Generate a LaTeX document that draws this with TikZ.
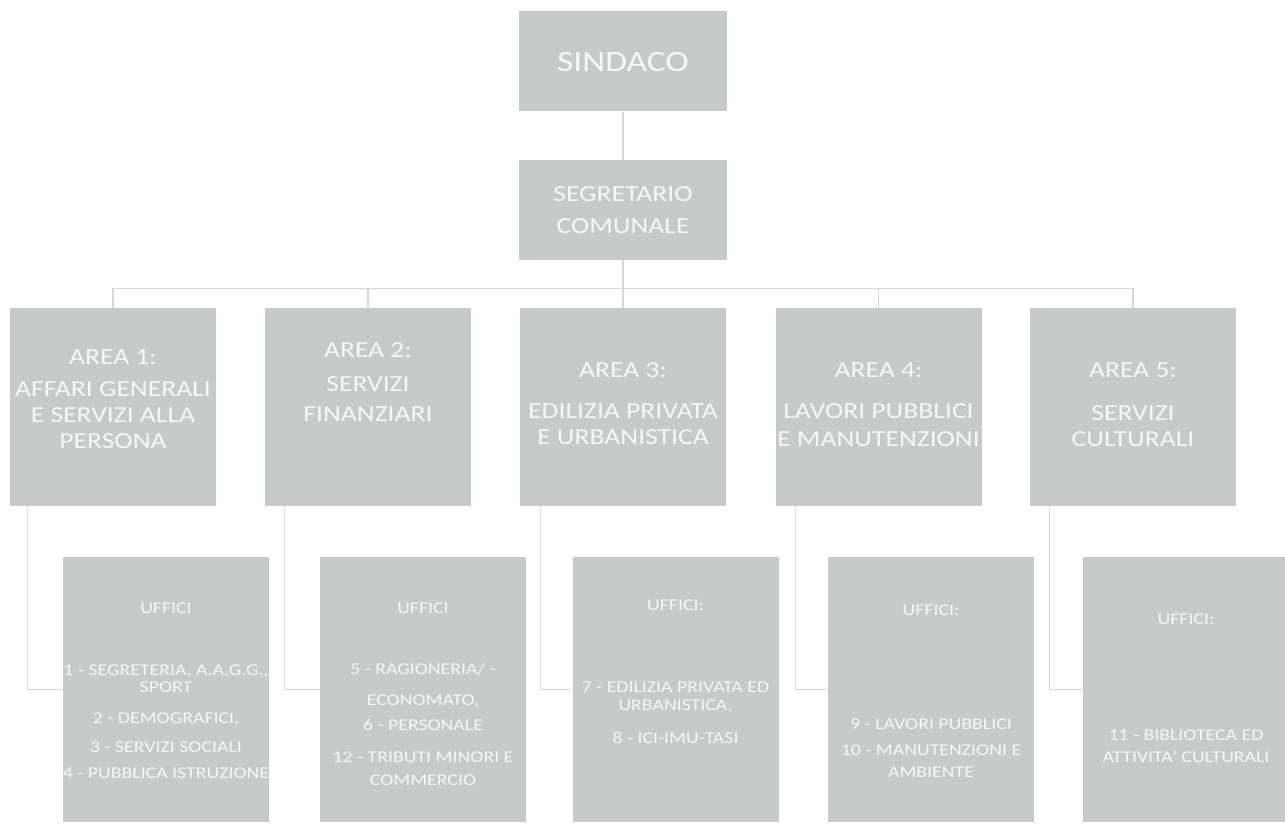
\documentclass[tikz,border=0pt]{standalone}
\usepackage{fontspec}
\setmainfont{Carlito}[FakeStretch=1.2]
\definecolor{boxgray}{RGB}{198,203,201}
\definecolor{txtwhite}{RGB}{246,247,247}
\definecolor{linegray}{RGB}{214,217,216}
\newcommand\fsin{\fontsize{29.5}{32}\selectfont}
\newcommand\fseg{\fontsize{23}{32}\selectfont}
\newcommand\farea{\fontsize{23}{26}\selectfont}
\newcommand\foff{\fontsize{16.5}{17}\selectfont}
\tikzset{
  unitbox/.style={fill=boxgray, draw=none, inner sep=0pt, minimum width=208pt, minimum height=100pt},
  areabox/.style={fill=boxgray, draw=none, inner sep=0pt, minimum width=206pt, minimum height=198pt},
  officebox/.style={fill=boxgray, draw=none, inner sep=0pt, minimum width=206pt, minimum height=265pt},
  txt/.style={text=txtwhite, align=center, inner sep=0pt},
  link/.style={draw=linegray, line width=1.3pt},
}
\begin{document}
\begin{tikzpicture}[x=1pt,y=-1pt]
\useasboundingbox (0,0) rectangle (1285,829);
\fill[white] (0,0) rectangle (1285,829);

% top
\node[unitbox] (sin) at (623,61.5) {};
\node[txt,font=\fsin] (sint) at (623,62) {SINDACO};
\node[unitbox] (seg) at (623,210) {};
\node[txt,font=\fseg] (segt) at (623,210) {SEGRETARIO\\COMUNALE};

% areas
\node[areabox] (a1) at (113,407) {};
\node[areabox] (a2) at (368,407) {};
\node[areabox] (a3) at (623,407) {};
\node[areabox] (a4) at (878.5,407) {};
\node[areabox] (a5) at (1133,407) {};

\node[txt,font=\farea] (a1t) at (113,399) {AREA 1:\\[6pt]AFFARI GENERALI\\E SERVIZI ALLA\\PERSONA};
\node[txt,font=\farea] (a2t) at (368,382) {AREA 2:\\[8pt]SERVIZI\\[4pt]FINANZIARI};
\node[txt,font=\farea] (a3t) at (623,404) {AREA 3:\\[15pt]EDILIZIA PRIVATA\\E URBANISTICA};
\node[txt,font=\farea] (a4t) at (878.5,405) {AREA 4:\\[15pt]LAVORI PUBBLICI\\[2pt]E MANUTENZIONI};
\node[txt,font=\farea] (a5t) at (1133,405) {AREA 5:\\[17pt]SERVIZI\\CULTURALI};

% offices
\node[officebox] (o1) at (166,689.5) {};
\node[officebox] (o2) at (423,689.5) {};
\node[officebox] (o3) at (675.5,689.5) {};
\node[officebox] (o4) at (931,689.5) {};
\node[officebox] (o5) at (1186,689.5) {};

\node[txt,font=\foff] (o1t) at (166,690.5) {UFFICI\\[45pt]1 - SEGRETERIA, A.A.G.G.,\\SPORT\\[14pt]2 - DEMOGRAFICI,\\[12pt]3 - SERVIZI SOCIALI\\[9pt]4 - PUBBLICA ISTRUZIONE};
\node[txt,font=\foff] (o2t) at (423,694) {UFFICI\\[44pt]5 - RAGIONERIA/ -\\[14pt]ECONOMATO,\\[8pt]6 - PERSONALE\\[15pt]12 - TRIBUTI MINORI E\\[6pt]COMMERCIO};
\node[txt,font=\foff] (o3t) at (675.5,671.5) {UFFICI:\\[65pt]7 - EDILIZIA PRIVATA ED\\[1pt]URBANISTICA,\\[16pt]8 - ICI-IMU-TASI};
\node[txt,font=\foff] (o4t) at (931,691) {UFFICI:\\[97pt]9 - LAVORI PUBBLICI\\[9pt]10 - MANUTENZIONI E\\[5pt]AMBIENTE};
\node[txt,font=\foff] (o5t) at (1186,688) {UFFICI:\\[99pt]11 - BIBLIOTECA ED\\[5pt]ATTIVITA' CULTURALI};

% connectors
\draw[link] (sin.south) -- (seg.north);
\draw[link] (seg.south) -- ++(0,28) coordinate (bus);
\foreach \a in {a1,a2,a3,a4,a5} {
  \draw[link] (bus) -| (\a.north);
}
\draw[link] ([xshift=18pt]a1.south west) |- (o1.west);
\draw[link] ([xshift=20pt]a2.south west) |- (o2.west);
\draw[link] ([xshift=21pt]a3.south west) |- (o3.west);
\draw[link] ([xshift=20pt]a4.south west) |- (o4.west);
\draw[link] ([xshift=20pt]a5.south west) |- (o5.west);
\end{tikzpicture}
\end{document}
